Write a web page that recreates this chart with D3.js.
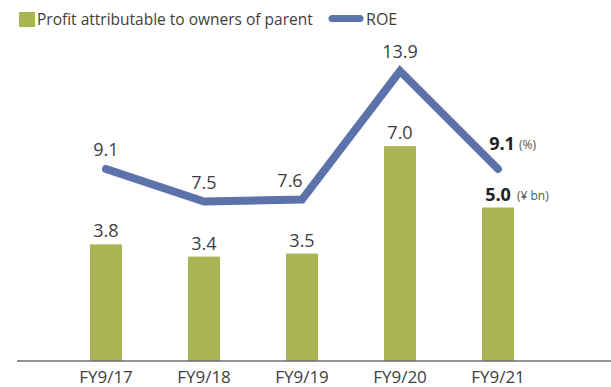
<!DOCTYPE html>
<html>
<head>
<meta charset="utf-8">
<script src="https://cdn.jsdelivr.net/npm/d3@7"></script>
<style>
  html, body { margin: 0; padding: 0; background: #fff; }
  svg { display: block; font-family: "Open Sans", "Noto Sans", sans-serif; }
</style>
</head>
<body>
<svg id="chart" width="611" height="387"></svg>
<script>
// Fiscal years
const categories = ["FY9/17", "FY9/18", "FY9/19", "FY9/20", "FY9/21"];
// Profit attributable to owners of parent (¥ bn)
const profit = [3.8, 3.4, 3.5, 7.0, 5.0];
// Return on equity (%)
const roe = [9.1, 7.5, 7.6, 13.9, 9.1];

const barColor = "#a9b453";
const lineColor = "#5b73aa";
const textColor = "#3e3e3e";

const svg = d3.select("#chart");

const x = d3.scaleBand()
  .domain(categories)
  .range([41, 563])
  .paddingInner(0.6735)
  .paddingOuter(0.5);
const cx = c => x(c) + x.bandwidth() / 2;

const yBar = d3.scaleLinear().domain([0, 10]).range([361, 54]);
const yRoe = d3.scaleLinear().domain([0, 15]).range([354.6, 48.6]);

const last = categories.length - 1;

// Bars
svg.append("g").selectAll("rect")
  .data(profit)
  .join("rect")
  .attr("x", (d, i) => x(categories[i]))
  .attr("y", d => yBar(d))
  .attr("width", x.bandwidth())
  .attr("height", d => yBar(0) - yBar(d))
  .attr("fill", barColor);

// Baseline axis
const axis = d3.axisBottom(x).tickSize(0).tickPadding(10);
const gAxis = svg.append("g")
  .attr("transform", `translate(0,${yBar(0)})`)
  .call(axis);
gAxis.select(".domain").remove();
gAxis.append("line")
  .attr("x1", 17).attr("x2", 611)
  .attr("stroke", "#6f6f6f").attr("stroke-width", 1.3);
gAxis.selectAll(".tick text")
  .attr("font-size", 17)
  .attr("fill", textColor)
  .attr("font-family", "'Open Sans', sans-serif");

// ROE line
const line = d3.line()
  .x((d, i) => cx(categories[i]))
  .y(d => yRoe(d));
svg.append("path")
  .datum(roe)
  .attr("d", line)
  .attr("fill", "none")
  .attr("stroke", lineColor)
  .attr("stroke-width", 8)
  .attr("stroke-linecap", "round")
  .attr("stroke-linejoin", "miter");

// Bar value labels
svg.append("g").selectAll("text")
  .data(profit)
  .join("text")
  .attr("x", (d, i) => cx(categories[i]))
  .attr("y", d => yBar(d) - 7)
  .attr("text-anchor", "middle")
  .attr("font-size", 18)
  .attr("font-weight", (d, i) => i === last ? 700 : 400)
  .attr("fill", (d, i) => i === last ? "#222" : textColor)
  .text(d => d.toFixed(1));

// ROE value labels; a label sitting under a steeply rising segment
// is nudged left so the line does not run through it
const roeDx = (d, i) => {
  if (i === last) return 4;
  const next = roe[i + 1];
  return next !== undefined && next - d > 3 ? -12 : 0;
};
svg.append("g").selectAll("text")
  .data(roe)
  .join("text")
  .attr("x", (d, i) => cx(categories[i]) + roeDx(d, i))
  .attr("y", (d, i) => yRoe(d) - (i === last ? 19 : 13))
  .attr("text-anchor", "middle")
  .attr("font-size", 18)
  .attr("font-weight", (d, i) => i === last ? 700 : 400)
  .attr("fill", (d, i) => i === last ? "#222" : textColor)
  .text(d => d.toFixed(1));

// Unit notes beside the latest values
const cxLast = cx(categories[last]);
svg.append("text")
  .attr("x", cxLast + 21).attr("y", yRoe(roe[last]) - 20)
  .attr("font-size", 12).attr("fill", "#555")
  .text("(%)");
svg.append("text")
  .attr("x", cxLast + 19).attr("y", yBar(profit[last]) - 8)
  .attr("font-size", 12).attr("fill", "#555")
  .text("(¥ bn)");

// Legend
const legend = svg.append("g");
legend.append("rect")
  .attr("x", 19).attr("y", 12).attr("width", 16).attr("height", 15)
  .attr("fill", barColor);
legend.append("text")
  .attr("x", 37).attr("y", 25)
  .attr("font-size", 15.5).attr("fill", textColor)
  .text("Profit attributable to owners of parent");
legend.append("line")
  .attr("x1", 332).attr("x2", 360).attr("y1", 18.5).attr("y2", 18.5)
  .attr("stroke", lineColor).attr("stroke-width", 7)
  .attr("stroke-linecap", "round");
legend.append("text")
  .attr("x", 366).attr("y", 25)
  .attr("font-size", 16).attr("fill", textColor)
  .text("ROE");
</script>
</body>
</html>
